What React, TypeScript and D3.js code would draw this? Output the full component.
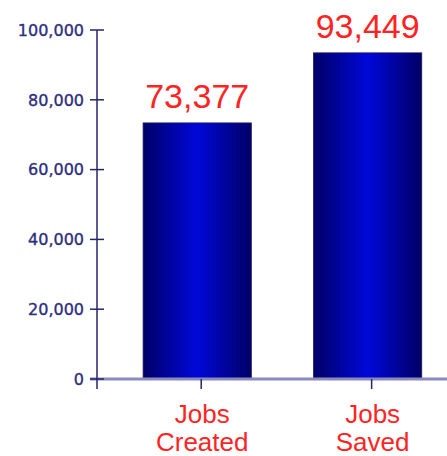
import React, { useEffect, useRef } from "react";
import * as d3 from "d3";

const categories = ["Jobs Created", "Jobs Saved"];
const values = [73377, 93449];
const yTicks = [0, 20000, 40000, 60000, 80000, 100000];

const width = 447;
const height = 456;
const axisX = 97;
const baseY = 379;

const App: React.FC = () => {
  const ref = useRef<SVGSVGElement | null>(null);

  useEffect(() => {
    document.body.style.margin = "0";
    if (!ref.current) return;
    const svg = d3.select(ref.current);
    svg.selectAll("*").remove();

    const y = d3.scaleLinear().domain([0, 100000]).range([baseY, 30]);
    const x = d3
      .scaleBand<string>()
      .domain(categories)
      .range([116, 456])
      .paddingInner(0.365)
      .paddingOuter(0.18);

    const defs = svg.append("defs");
    const grad = defs
      .append("linearGradient")
      .attr("id", "barGrad")
      .attr("x1", "0%")
      .attr("x2", "100%")
      .attr("y1", "0%")
      .attr("y2", "0%");
    grad.append("stop").attr("offset", "0%").attr("stop-color", "#000066");
    grad.append("stop").attr("offset", "50%").attr("stop-color", "#0008d8");
    grad.append("stop").attr("offset", "100%").attr("stop-color", "#000066");

    const step = x.step();
    const center = (c: string) => 116 + step * 0.5 + categories.indexOf(c) * step;
    const barW = x.bandwidth();

    // bars
    svg
      .selectAll(".bar")
      .data(categories)
      .enter()
      .append("rect")
      .attr("x", (c) => center(c) - barW / 2 - 4)
      .attr("y", (c, i) => y(values[i]))
      .attr("width", barW)
      .attr("height", (c, i) => baseY - y(values[i]))
      .attr("fill", "url(#barGrad)")
      .attr("stroke", "#1a1a60")
      .attr("stroke-width", 0.8);

    // value labels
    svg
      .selectAll(".val")
      .data(categories)
      .enter()
      .append("text")
      .attr("x", (c) => center(c) - 4)
      .attr("y", (c, i) => y(values[i]) - 15)
      .attr("text-anchor", "middle")
      .attr("font-family", "Liberation Sans, Arial, sans-serif")
      .attr("font-size", 34)
      .attr("fill", "#ff2424")
      .text((c, i) => d3.format(",")(values[i]));

    // horizontal axis
    svg
      .append("line")
      .attr("x1", 90)
      .attr("x2", width)
      .attr("y1", baseY)
      .attr("y2", baseY)
      .attr("stroke", "#8a8abf")
      .attr("stroke-width", 3);

    // category ticks
    svg
      .selectAll(".ctick")
      .data(categories)
      .enter()
      .append("line")
      .attr("x1", (c) => center(c))
      .attr("x2", (c) => center(c))
      .attr("y1", baseY)
      .attr("y2", baseY + 10)
      .attr("stroke", "#25256e")
      .attr("stroke-width", 1.5);

    // vertical axis
    svg
      .append("line")
      .attr("x1", axisX)
      .attr("x2", axisX)
      .attr("y1", y(100000))
      .attr("y2", baseY + 10)
      .attr("stroke", "#25256e")
      .attr("stroke-width", 1.5);

    const ticks = svg.selectAll(".ytick").data(yTicks).enter().append("g");
    ticks
      .append("line")
      .attr("x1", axisX - 7)
      .attr("x2", axisX + 7)
      .attr("y1", (d) => y(d))
      .attr("y2", (d) => y(d))
      .attr("stroke", "#25256e")
      .attr("stroke-width", 1.5);
    ticks
      .append("text")
      .attr("x", 84)
      .attr("y", (d) => y(d))
      .attr("dy", "0.36em")
      .attr("text-anchor", "end")
      .attr("font-family", "DejaVu Sans, Verdana, sans-serif")
      .attr("font-size", 16)
      .attr("fill", "#2e2e7e")
      .attr("stroke", "#2e2e7e")
      .attr("stroke-width", 0.35)
      .text((d) => d3.format(",")(d));

    // category labels
    const cl = svg
      .selectAll(".clab")
      .data(categories)
      .enter()
      .append("text")
      .attr("text-anchor", "middle")
      .attr("font-family", "Liberation Sans, Arial, sans-serif")
      .attr("font-size", 26)
      .attr("fill", "#ff2424");
    cl.selectAll("tspan")
      .data((c) => c.split(" ").map((w) => ({ w, c })))
      .enter()
      .append("tspan")
      .attr("x", (d) => center(d.c) + 1)
      .attr("y", (d, i) => 423 + i * 28)
      .text((d) => d.w);
  }, []);

  return <svg ref={ref} width={width} height={height} style={{ display: "block", background: "#fff" }} />;
};

export default App;
